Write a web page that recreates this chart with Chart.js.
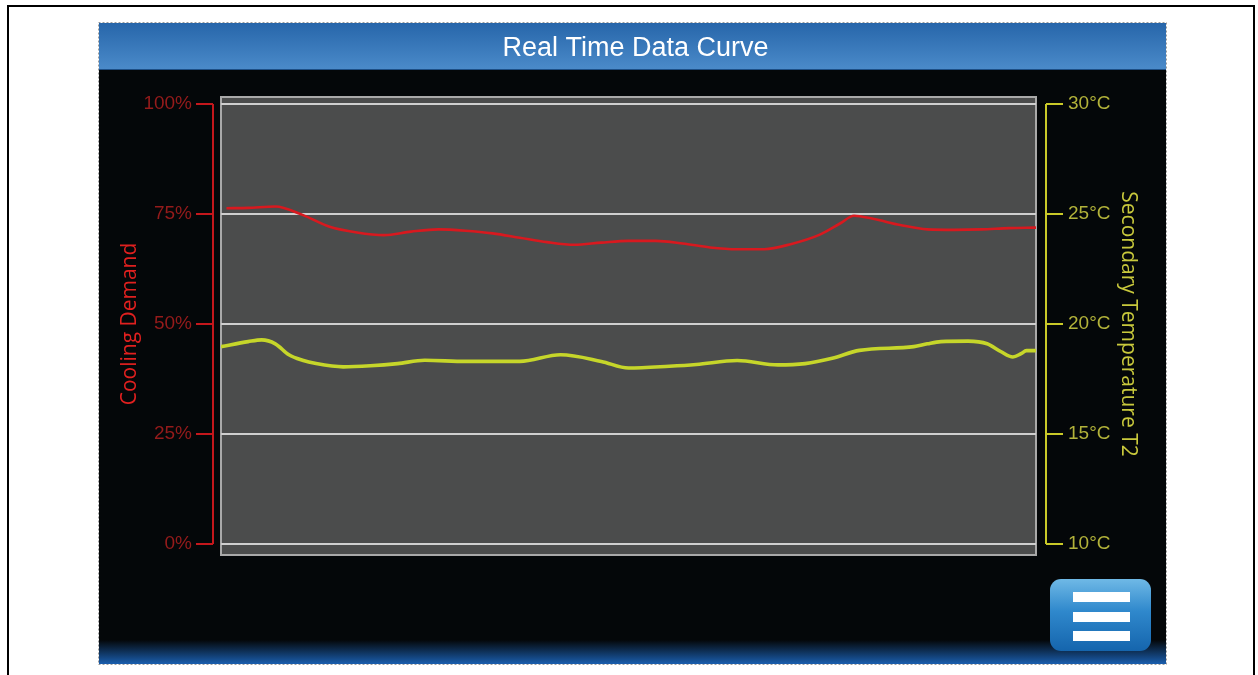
<!DOCTYPE html>
<html>
<head>
<meta charset="utf-8">
<title>Real Time Data Curve</title>
<script src="https://cdn.jsdelivr.net/npm/chart.js@4.4.1/dist/chart.umd.min.js"></script>
<style>
  html, body { margin: 0; padding: 0; background: #fff; }
  canvas { display: block; }
</style>
</head>
<body>
<canvas id="curve" width="1258" height="675"></canvas>
<script>
// Sample times (s) for each trace
const demandTime = [2, 10, 20, 30, 40, 50, 60, 70, 80, 90, 100, 110, 120, 130, 140, 150, 160, 170, 180, 190, 200, 210, 220, 228, 233, 240, 250, 260, 270, 280, 290, 300];
const coolingDemand = [76.3, 76.4, 76.7, 74.8, 72.1, 70.8, 70.2, 71.0, 71.5, 71.2, 70.6, 69.6, 68.6, 68.0, 68.5, 68.9, 68.9, 68.3, 67.4, 67.0, 67.0, 68.2, 70.2, 72.9, 74.6, 73.9, 72.5, 71.5, 71.4, 71.5, 71.8, 71.9];

const tempTime = [0, 10, 15, 20, 25, 30, 35, 45, 55, 65, 75, 90, 110, 125, 140, 150, 165, 175, 190, 205, 215, 225, 235, 255, 260, 265, 275, 282, 287, 291.5, 294.5, 296.5, 300];
const secondaryTemp = [18.97, 19.2, 19.28, 19.1, 18.6, 18.35, 18.2, 18.05, 18.1, 18.2, 18.35, 18.3, 18.3, 18.6, 18.3, 18.0, 18.08, 18.16, 18.34, 18.14, 18.2, 18.44, 18.8, 18.97, 19.1, 19.2, 19.22, 19.1, 18.75, 18.5, 18.65, 18.79, 18.79];

const demandTicks = [0, 25, 50, 75, 100];
const tempTicks = [10, 15, 20, 25, 30];

const RED = '#d8191f';
const LIME = '#c6d62a';
const SCREEN_TITLE = 'Real Time Data Curve';

function pairs(xs, ys) {
    return xs.map((x, i) => ({ x, y: ys[i] }));
}

// Panel chrome: frame, title bar, black screen, bottom strip, menu button, plot box
const panelChrome = {
    id: 'panelChrome',
    beforeDraw(chart) {
        const { ctx, chartArea: a } = chart;
        ctx.save();
        ctx.fillStyle = '#fff';
        ctx.fillRect(0, 0, chart.width, chart.height);

        ctx.strokeStyle = '#000';
        ctx.lineWidth = 2;
        ctx.strokeRect(8, 6, 1246, 700);

        // screen
        ctx.fillStyle = '#040709';
        ctx.fillRect(99, 23, 1067, 641);

        let g = ctx.createLinearGradient(0, 23, 0, 70);
        g.addColorStop(0, '#2766aa');
        g.addColorStop(1, '#4b8bca');
        ctx.fillStyle = g;
        ctx.fillRect(99, 23, 1067, 47);
        ctx.fillStyle = '#1d4f86';
        ctx.fillRect(99, 69, 1067, 1);

        g = ctx.createLinearGradient(0, 640, 0, 664);
        g.addColorStop(0, '#040709');
        g.addColorStop(1, '#1a5eae');
        ctx.fillStyle = g;
        ctx.fillRect(99, 640, 1067, 24);

        ctx.setLineDash([2, 2]);
        ctx.strokeStyle = '#9a9a9a';
        ctx.lineWidth = 1;
        ctx.strokeRect(98.5, 22.5, 1068, 642);
        ctx.setLineDash([]);

        // screen title
        ctx.fillStyle = '#fff';
        ctx.font = '27px "Liberation Sans", Arial, sans-serif';
        ctx.textAlign = 'center';
        ctx.textBaseline = 'middle';
        ctx.fillText(SCREEN_TITLE, 635.5, 49);

        // plot box
        ctx.fillStyle = '#4b4c4c';
        ctx.fillRect(a.left, a.top - 7, a.right - a.left, a.bottom - a.top + 18);
        ctx.strokeStyle = '#a9a9a9';
        ctx.lineWidth = 2;
        ctx.strokeRect(a.left, a.top - 7, a.right - a.left, a.bottom - a.top + 18);

        // menu button
        g = ctx.createLinearGradient(0, 579, 0, 651);
        g.addColorStop(0, '#6fb9e6');
        g.addColorStop(0.45, '#2f88cc');
        g.addColorStop(1, '#1565ad');
        ctx.fillStyle = g;
        ctx.beginPath();
        ctx.roundRect(1050, 579, 101, 72, 11);
        ctx.fill();
        ctx.fillStyle = '#fff';
        [592, 612, 631].forEach(y => ctx.fillRect(1073, y, 57, 10));
        ctx.restore();
    },
    afterDraw(chart) {
        // bracket-style axes drawn from the scales' own tick positions
        const { ctx, chartArea: a } = chart;
        const sides = [
            { scale: chart.scales.y, x: a.left - 8, dir: -1, color: '#c4171c' },
            { scale: chart.scales.y2, x: a.right + 10, dir: 1, color: '#c9c928' }
        ];
        ctx.save();
        ctx.lineWidth = 2;
        sides.forEach(s => {
            const sc = s.scale;
            ctx.strokeStyle = s.color;
            ctx.beginPath();
            ctx.moveTo(s.x, sc.getPixelForValue(sc.min));
            ctx.lineTo(s.x, sc.getPixelForValue(sc.max));
            sc.ticks.forEach(t => {
                const y = sc.getPixelForValue(t.value);
                ctx.moveTo(s.x, y);
                ctx.lineTo(s.x + s.dir * 17, y);
            });
            ctx.stroke();
        });
        ctx.restore();
    }
};

new Chart(document.getElementById('curve'), {
    type: 'line',
    data: {
        datasets: [{
            label: 'Cooling Demand',
            data: pairs(demandTime, coolingDemand),
            yAxisID: 'y',
            borderColor: RED,
            borderWidth: 2.6,
            pointRadius: 0,
            cubicInterpolationMode: 'monotone'
        }, {
            label: 'Secondary Temperature T2',
            data: pairs(tempTime, secondaryTemp),
            yAxisID: 'y2',
            borderColor: LIME,
            borderWidth: 3.6,
            pointRadius: 0,
            cubicInterpolationMode: 'monotone'
        }]
    },
    options: {
        responsive: false,
        animation: false,
        devicePixelRatio: 1,
        layout: { padding: { left: 117, right: 117, top: 104, bottom: 131 } },
        plugins: {
            legend: { display: false },
            tooltip: { enabled: false },
            title: { display: false }
        },
        scales: {
            x: { type: 'linear', min: 0, max: 300, display: false },
            y: {
                position: 'left',
                min: 0, max: 100,
                afterBuildTicks: sc => { sc.ticks = demandTicks.map(v => ({ value: v })); },
                afterFit: sc => { sc.width = 104; },
                grid: { color: '#cfcfcf', lineWidth: 2, drawTicks: false },
                border: { display: false },
                ticks: {
                    padding: 29,
                    color: '#951b1b',
                    font: { family: 'Liberation Sans', size: 19 },
                    callback: v => v + '%'
                },
                title: {
                    display: true,
                    text: 'Cooling Demand',
                    color: '#e0201f',
                    padding: 0,
                    font: { family: '"Open Sans", sans-serif', size: 21 }
                }
            },
            y2: {
                position: 'right',
                min: 10, max: 30,
                afterBuildTicks: sc => { sc.ticks = tempTicks.map(v => ({ value: v })); },
                afterFit: sc => { sc.width = 105; },
                grid: { drawOnChartArea: false, drawTicks: false },
                border: { display: false },
                ticks: {
                    padding: 32,
                    color: '#b2b23a',
                    font: { family: 'Liberation Sans', size: 19 },
                    callback: v => v + '°C'
                },
                title: {
                    display: true,
                    text: 'Secondary Temperature T2',
                    color: '#c8c83c',
                    padding: 0,
                    font: { family: '"Open Sans", sans-serif', size: 21 }
                }
            }
        }
    },
    plugins: [panelChrome]
});
</script>
</body>
</html>
